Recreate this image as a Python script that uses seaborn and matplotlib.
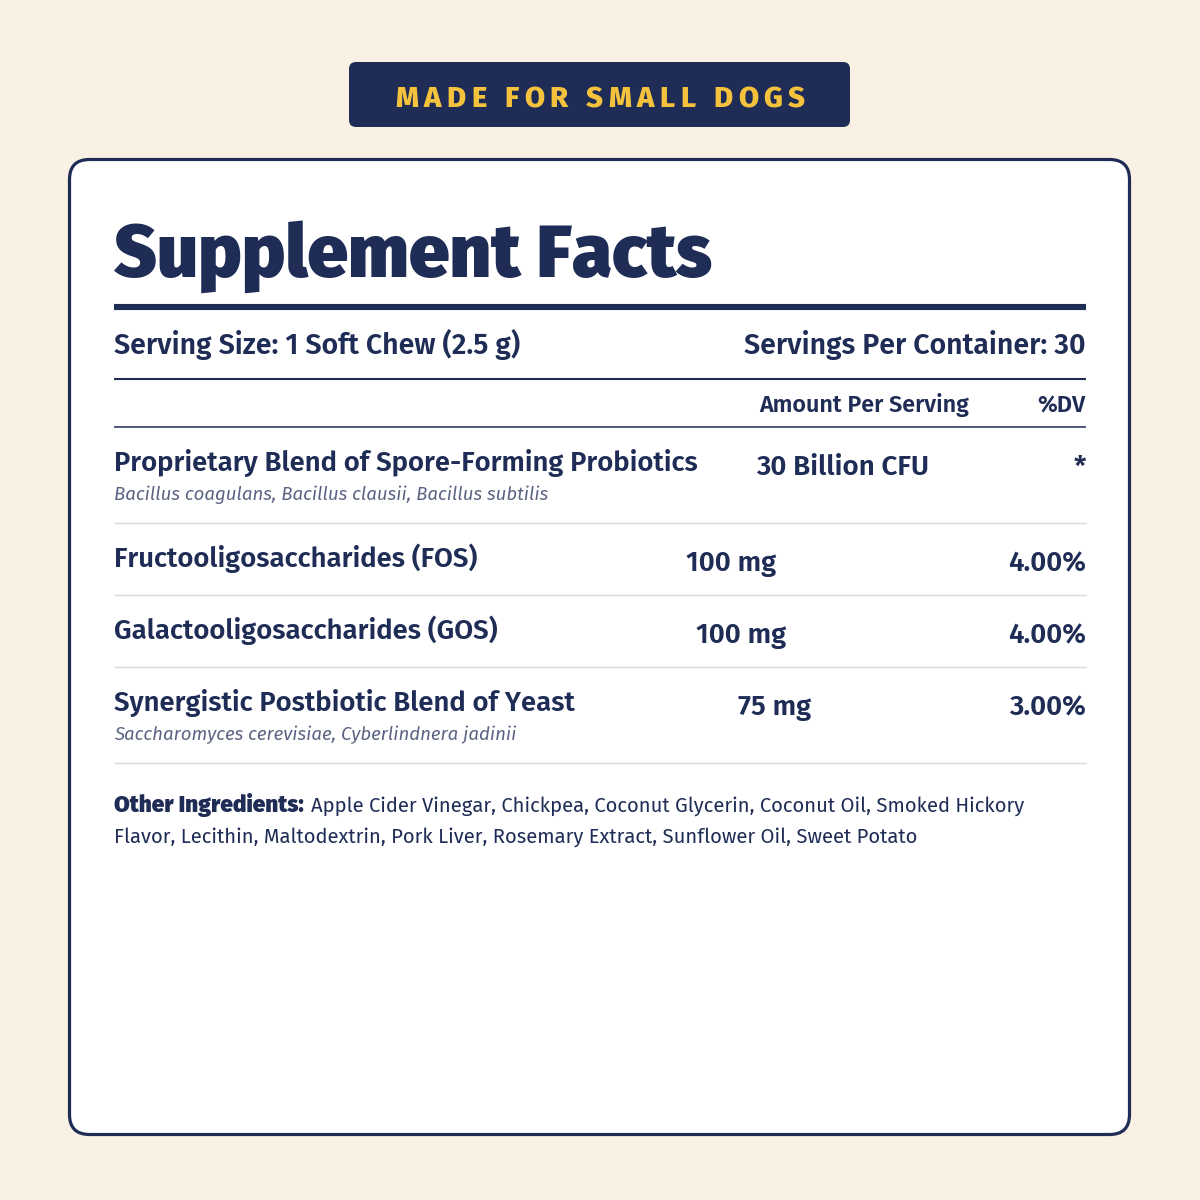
import matplotlib
matplotlib.use("Agg")
import numpy as np
import pandas as pd
import seaborn as sns
import matplotlib.pyplot as plt
from matplotlib.patches import FancyBboxPatch
from matplotlib.font_manager import FontProperties

# ---------------- data ----------------
BADGE = "MADE FOR SMALL DOGS"
TITLE = "Supplement Facts"
SERVING_SIZE = "Serving Size: 1 Soft Chew (2.5 g)"
SERVINGS_PER = "Servings Per Container: 30"
COL_AMOUNT = "Amount Per Serving"
COL_DV = "%DV"
NAMES = [
    "Proprietary Blend of Spore-Forming Probiotics",
    "Fructooligosaccharides (FOS)",
    "Galactooligosaccharides (GOS)",
    "Synergistic Postbiotic Blend of Yeast",
]
SUBNAMES = [
    "Bacillus coagulans, Bacillus clausii, Bacillus subtilis",
    "",
    "",
    "Saccharomyces cerevisiae, Cyberlindnera jadinii",
]
AMOUNTS = ["30 Billion CFU", "100 mg", "100 mg", "75 mg"]
DV = ["*", "4.00%", "4.00%", "3.00%"]
OTHER_LABEL = "Other Ingredients:"
OTHER_LINES = [
    "Apple Cider Vinegar, Chickpea, Coconut Glycerin, Coconut Oil, Smoked Hickory",
    "Flavor, Lecithin, Maltodextrin, Pork Liver, Rosemary Extract, Sunflower Oil, Sweet Potato",
]

# ---------------- style ----------------
BG = "#f9f1e3"
NAVY = "#1f2d56"
YELLOW = "#f4c23c"
SUBGRAY = "#5b6382"
SEPGRAY = "#d8dadf"
AMOUNT_LEFT = [756, 686, 696, 738]

sns.set_theme(style="white")
plt.rcParams["font.family"] = ["Fira Sans", "DejaVu Sans"]

fig = plt.figure(figsize=(12, 12), dpi=100)
fig.patch.set_facecolor(BG)
ax = fig.add_axes([0, 0, 1, 1])
ax.set_xlim(0, 1200)
ax.set_ylim(1200, 0)
ax.axis("off")
ax.set_facecolor(BG)
renderer = fig.canvas.get_renderer()

BODY = ["Fira Sans", "DejaVu Sans"]
HEAVY = ["Fira Sans", "DejaVu Sans"]


def fp(family, weight=400, style="normal", size=10):
    return FontProperties(family=family, weight=weight, style=style, size=size)


def width(s, prop):
    w, h, d = renderer.get_text_width_height_descent(s, prop, ismath=False)
    return w


def fit(s, target, family, weight=400, style="normal"):
    return 20.0 * target / width(s, fp(family, weight, style, 20))


# badge
ax.add_patch(FancyBboxPatch((349, 62), 501, 65, boxstyle="round,pad=0,rounding_size=7",
                            fc=NAVY, ec="none", zorder=1))
bprop = fp(HEAVY, 800, size=21)
cw = [width(c, bprop) for c in BADGE]
track = (410 - sum(cw)) / (len(BADGE) - 1)
x = 395
for c, w in zip(BADGE, cw):
    ax.text(x, 107, c, fontproperties=bprop, color=YELLOW, va="baseline", ha="left", zorder=2)
    x += w + track

# card
ax.add_patch(FancyBboxPatch((69.5, 159.5), 1060, 975, boxstyle="round,pad=0,rounding_size=20",
                            fc="white", ec=NAVY, lw=2.3, zorder=1))

L, R = 114, 1086
# title
ts = fit(TITLE, 598, HEAVY, 900)
ax.text(L, 277, TITLE, fontproperties=fp(HEAVY, 900, size=ts), color=NAVY, va="baseline", zorder=3)
ax.hlines(307, L, R, color=NAVY, lw=4.4, zorder=3)

# serving
ss = fit(SERVING_SIZE, 405, BODY, 600)
ax.text(L, 354, SERVING_SIZE, fontproperties=fp(BODY, 600, size=ss), color=NAVY, va="baseline")
ax.text(R, 354, SERVINGS_PER, fontproperties=fp(BODY, 600, size=ss), color=NAVY, va="baseline", ha="right")
ax.hlines(378.5, L, R, color=NAVY, lw=1.5)

hs = fit(COL_AMOUNT, 210, BODY, 600)
ax.text(759, 412, COL_AMOUNT, fontproperties=fp(BODY, 600, size=hs), color=NAVY, va="baseline")
ax.text(R, 412, COL_DV, fontproperties=fp(BODY, 600, size=hs), color=NAVY, va="baseline", ha="right")
ax.hlines(427, L, R, color=NAVY, lw=1.1)

# rows
ns = fit(NAMES[0], 585, BODY, 600)
subs = fit(SUBNAMES[0], 433, BODY, 400, "italic")
ams = fit(AMOUNTS[0], 173, BODY, 600)
top = 427
for name, sub, amt, dv, axl in zip(NAMES, SUBNAMES, AMOUNTS, DV, AMOUNT_LEFT):
    h = 96 if sub else 72
    ax.text(L, top + 44, name, fontproperties=fp(BODY, 600, size=ns), color=NAVY, va="baseline")
    if sub:
        ax.text(L, top + 73, sub, fontproperties=fp(BODY, 400, "italic", size=subs), color=SUBGRAY, va="baseline")
    ax.text(axl, top + 48, amt, fontproperties=fp(BODY, 600, size=ams), color=NAVY, va="baseline")
    ax.text(R, top + 48, dv, fontproperties=fp(BODY, 600, size=ams), color=NAVY, va="baseline", ha="right")
    top += h
    ax.hlines(top, L, R, color=SEPGRAY, lw=1.0)

# other ingredients
os_ = fit(OTHER_LINES[1], 805, BODY, 400)
ls_ = fit(OTHER_LABEL, 190, HEAVY, 900)
lprop = fp(HEAVY, 900, size=ls_)
ax.text(L, 812, OTHER_LABEL, fontproperties=lprop, color=NAVY, va="baseline")
ax.text(311, 812, OTHER_LINES[0], fontproperties=fp(BODY, 400, size=os_), color=NAVY, va="baseline")
ax.text(L, 843, OTHER_LINES[1], fontproperties=fp(BODY, 400, size=os_), color=NAVY, va="baseline")

fig.savefig("out.png", dpi=100, facecolor=BG)
